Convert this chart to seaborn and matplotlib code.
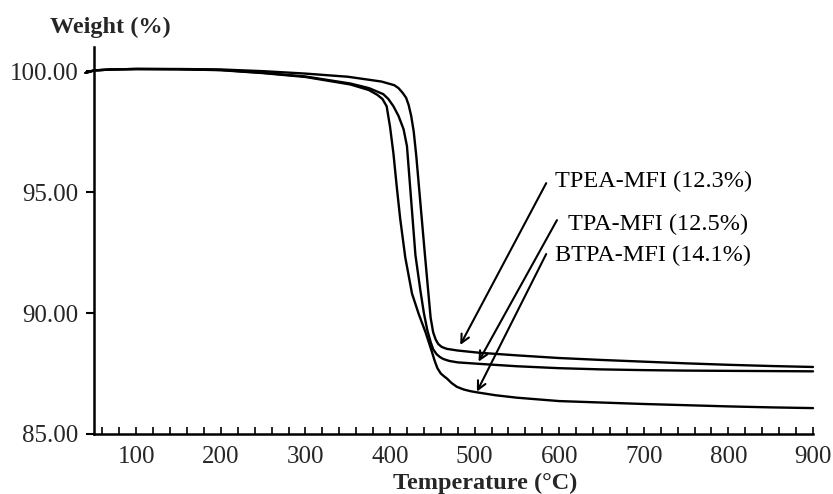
import matplotlib
matplotlib.use("Agg")
import matplotlib.pyplot as plt
from matplotlib.ticker import MultipleLocator, FormatStrFormatter
import seaborn as sns
import pandas as pd

# ---- data ----
tpea_temp = [40, 50, 70, 100, 150, 200, 250, 300, 350, 390, 405, 410, 415, 419, 422,
             425, 428, 431, 434.5, 438, 441, 445, 448, 451, 454, 457, 461, 467, 480,
             505, 550, 600, 650, 700, 750, 800, 850, 900]
tpea_wt = [99.93, 100.03, 100.07, 100.09, 100.09, 100.07, 100.0, 99.9, 99.77, 99.57,
           99.42, 99.3, 99.1, 98.9, 98.6, 98.15, 97.5, 96.5, 95.1, 93.7, 92.5, 90.95,
           89.8, 89.2, 88.9, 88.72, 88.6, 88.52, 88.45, 88.36, 88.25, 88.14, 88.06,
           87.99, 87.92, 87.86, 87.81, 87.77]

tpa_temp = [40, 50, 70, 100, 150, 200, 250, 300, 353, 375, 392, 398, 404, 410, 416,
            420, 424, 430, 436, 440, 444, 448, 451, 455, 459, 463, 470, 480, 505, 550,
            600, 650, 700, 750, 800, 850, 900]
tpa_wt = [99.93, 100.03, 100.07, 100.09, 100.08, 100.05, 99.93, 99.78, 99.49, 99.3,
          99.05, 98.85, 98.55, 98.15, 97.6, 96.9, 95.1, 92.4, 90.9, 90.0, 89.3, 88.8,
          88.5, 88.3, 88.18, 88.1, 88.02, 87.96, 87.9, 87.8, 87.72, 87.67, 87.64,
          87.62, 87.61, 87.6, 87.59]

btpa_temp = [40, 50, 70, 100, 150, 200, 250, 300, 353, 375, 385, 391, 396, 400, 404,
             408, 412, 418, 426, 434, 442, 449, 453, 456, 460, 464, 467, 473, 479, 487,
             495, 503, 525, 550, 600, 650, 700, 750, 800, 850, 900]
btpa_wt = [99.93, 100.03, 100.07, 100.09, 100.08, 100.04, 99.92, 99.76, 99.45, 99.22,
           99.02, 98.85, 98.55, 97.7, 96.6, 95.2, 93.9, 92.3, 90.8, 89.95, 89.2, 88.45,
           88.0, 87.72, 87.5, 87.38, 87.3, 87.1, 86.95, 86.84, 86.77, 86.72, 86.6,
           86.5, 86.36, 86.3, 86.24, 86.19, 86.14, 86.1, 86.07]

labels = ["TPEA-MFI (12.3%)", "TPA-MFI (12.5%)", "BTPA-MFI (14.1%)"]
# label anchor (text left, centre) and arrow start/tip in data units
label_pos = [(595, 95.43), (610, 93.68), (595, 92.40)]
arrow_start = [(584.6, 95.37), (597.3, 93.84), (584.6, 92.44)]
arrow_tip = [(483, 88.68), (504.6, 87.99), (502.7, 86.75)]

x_ticks = [100, 200, 300, 400, 500, 600, 700, 800, 900]
y_ticks = [85, 90, 95, 100]

# ---- style ----
sns.set_theme(style="white")
plt.rcParams["font.family"] = ["Liberation Serif", "DejaVu Serif"]

fig = plt.figure(figsize=(8.33, 4.94), dpi=100)
ax = fig.add_axes([0.1128, 0.1215, 0.8632, 0.7834])

series = [(tpea_temp, tpea_wt), (tpa_temp, tpa_wt), (btpa_temp, btpa_wt)]
for (t, w), name in zip(series, labels):
    df = pd.DataFrame({"Temperature": t, "Weight": w})
    sns.lineplot(data=df, x="Temperature", y="Weight", ax=ax, color="black",
                 linewidth=1.7, estimator=None, sort=True, clip_on=False)

for (lx, ly), (sx, sy), (tx, ty), name in zip(label_pos, arrow_start, arrow_tip, labels):
    ax.annotate("", xy=(tx, ty), xytext=(sx, sy),
                arrowprops=dict(arrowstyle="->", color="black", lw=1.5,
                                shrinkA=0, shrinkB=0, mutation_scale=15))
    ax.text(lx, ly, name, ha="left", va="center", fontsize=17.5, color="black")

ax.set_xlim(50, 900)
ax.set_ylim(85, 101)
ax.set_xlabel("")
ax.set_ylabel("")

ax.xaxis.set_major_locator(MultipleLocator(100))
ax.xaxis.set_minor_locator(MultipleLocator(20))
ax.set_xticks(x_ticks)
ax.set_yticks(y_ticks)
ax.yaxis.set_major_formatter(FormatStrFormatter("%.2f"))

ax.tick_params(axis="x", which="both", direction="in", length=5, width=1.2,
               color="black", labelsize=18, pad=9, bottom=True)
ax.tick_params(axis="y", which="major", direction="out", length=6, width=1.5,
               color="black", labelsize=18, pad=5, left=True)

for side in ["top", "right"]:
    ax.spines[side].set_visible(False)
for side in ["left", "bottom"]:
    ax.spines[side].set_color("black")
    ax.spines[side].set_linewidth(1.8)

fig.text(0.06, 1 - 27 / 494, "Weight (%)", ha="left", va="center",
         fontsize=17.5, fontweight="bold")
fig.text(0.582, 0.011, "Temperature (°C)", ha="center", va="baseline",
         fontsize=17.5, fontweight="bold")

fig.savefig("out.png", dpi=100, facecolor="white")
